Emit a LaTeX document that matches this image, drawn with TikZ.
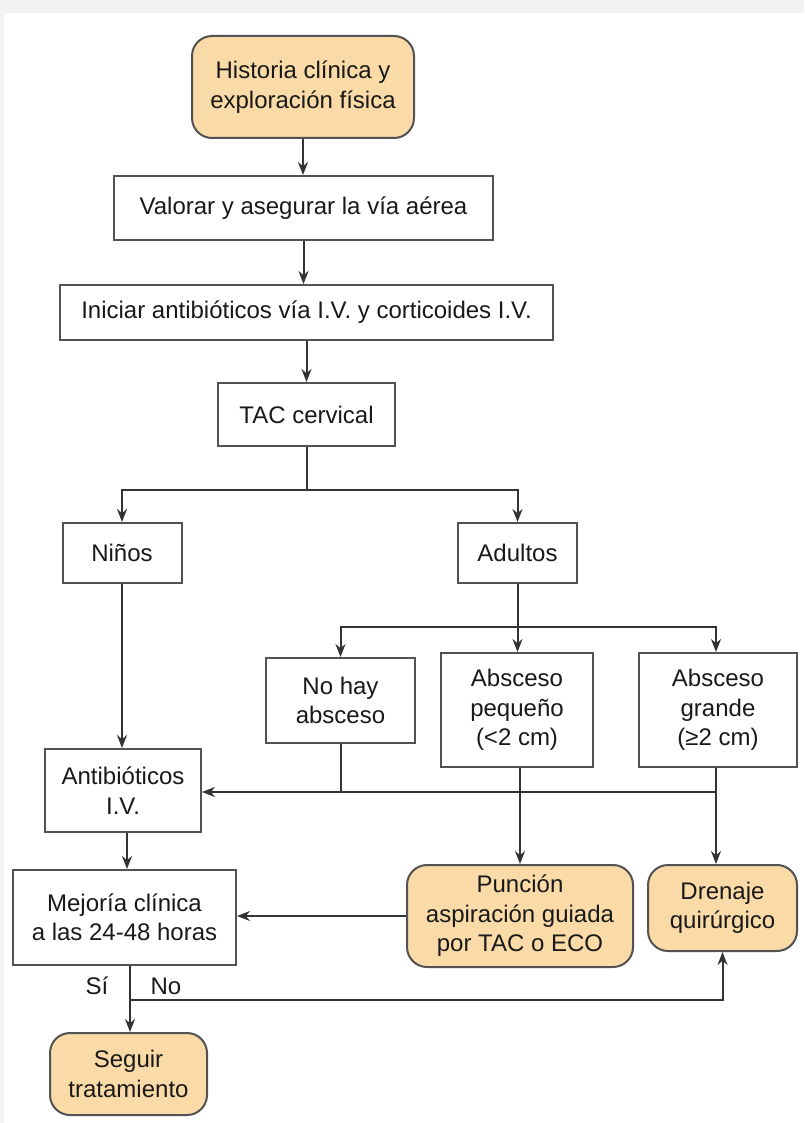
\documentclass[tikz,border=0pt]{standalone}
\usepackage{fontspec}
\setmainfont{Liberation Sans}
\usetikzlibrary{arrows.meta}
\definecolor{peach}{HTML}{FADBA8}
\definecolor{edge}{HTML}{333333}
\definecolor{framegray}{HTML}{F2F2F2}
\begin{document}
\begin{tikzpicture}[x=1pt,y=-1pt,
  every node/.style={font=\fontsize{24}{29.5}\selectfont, text=black!90, align=center, inner sep=0pt},
  box/.style={draw=edge!85, line width=2pt, fill=white},
  rbox/.style={draw=edge!85, line width=2pt, fill=peach, rounded corners=20pt},
  conn/.style={draw=edge, line width=2pt},
  arr/.style={conn, -{Stealth[length=13pt,width=10pt]}}]
\fill[framegray] (0,0) rectangle (804,1123);
\fill[white] (4,13) rectangle (804,1123);
\useasboundingbox (0,0) rectangle (804,1123);

\node[rbox, minimum width=222pt, minimum height=102pt] (hist) at (303,87) {Historia clínica y\\exploración física};
\node[box, minimum width=379pt, minimum height=64pt] (val) at (303.5,208) {Valorar y asegurar la vía aérea};
\node[box, minimum width=493pt, minimum height=55pt] (ini) at (306.5,312.5) {Iniciar antibióticos vía I.V. y corticoides I.V.};
\node[box, minimum width=177pt, minimum height=63pt] (tac) at (306.5,414.5) {TAC cervical};
\node[box, minimum width=119pt, minimum height=60pt] (nin) at (122,553) {Niños};
\node[box, minimum width=119pt, minimum height=60pt] (adu) at (517.5,553) {Adultos};
\node[box, minimum width=149pt, minimum height=85pt] (noh) at (340.5,700.5) {No hay\\absceso};
\node[box, minimum width=152pt, minimum height=114pt] (peq) at (517,710) {Absceso\\pequeño\\(<2 cm)};
\node[box, minimum width=158pt, minimum height=114pt] (gra) at (718,710) {Absceso\\grande\\(≥2 cm)};
\node[box, minimum width=156pt, minimum height=83pt] (ant) at (123,790.5) {Antibióticos\\I.V.};
\node[box, minimum width=223pt, minimum height=95pt] (mej) at (124.5,917.5) {Mejoría clínica\\a las 24-48 horas};
\node[rbox, minimum width=226pt, minimum height=102pt] (pun) at (520,916) {Punción\\aspiración guiada\\por TAC o ECO};
\node[rbox, minimum width=149pt, minimum height=86pt] (dre) at (722.5,908) {Drenaje\\quirúrgico};
\node[rbox, minimum width=157pt, minimum height=82pt] (seg) at (128.5,1074) {Seguir\\tratamiento};

\coordinate (split1) at (306.5,490);
\coordinate (split2) at (517.5,627);
\coordinate (join) at (716,792);
\coordinate (nojoin) at (340.5,792);
\coordinate (branch) at (130,1000);

\draw[arr] (hist.south) -- (hist.south |- val.north);
\draw[arr] (val.south) -- (val.south |- ini.north);
\draw[arr] (ini.south) -- (ini.south |- tac.north);
\draw[conn] (tac.south) -- (split1);
\draw[arr] (split1) -| (nin.north);
\draw[arr] (split1) -| (adu.north);
\draw[arr] (nin.south) -- (nin.south |- ant.north);
\draw[arr] (adu.south) -- (adu.south |- peq.north);
\draw[arr] (split2) -| (noh.north);
\draw[arr] (split2) -| ([xshift=-2pt]gra.north);
\draw[conn] (noh.south) -- (nojoin);
\draw[arr] ([xshift=-2pt]gra.south) -- ([xshift=-2pt]gra.south |- dre.north);
\draw[arr] (join) -- (join -| ant.east);
\draw[arr] ([xshift=3pt]peq.south) -- ([xshift=3pt]peq.south |- pun.north);
\draw[arr] (pun.west) -- (pun.west -| mej.east);
\draw[arr] (ant.south -| 127,0) -- (127,0 |- mej.north);
\draw[arr] (mej.south -| branch) -- (branch |- seg.north);
\draw[arr] (branch) -| (dre.south);
\node (si) at (97,986) {Sí};
\node (no) at (166,986) {No};
\end{tikzpicture}
\end{document}
